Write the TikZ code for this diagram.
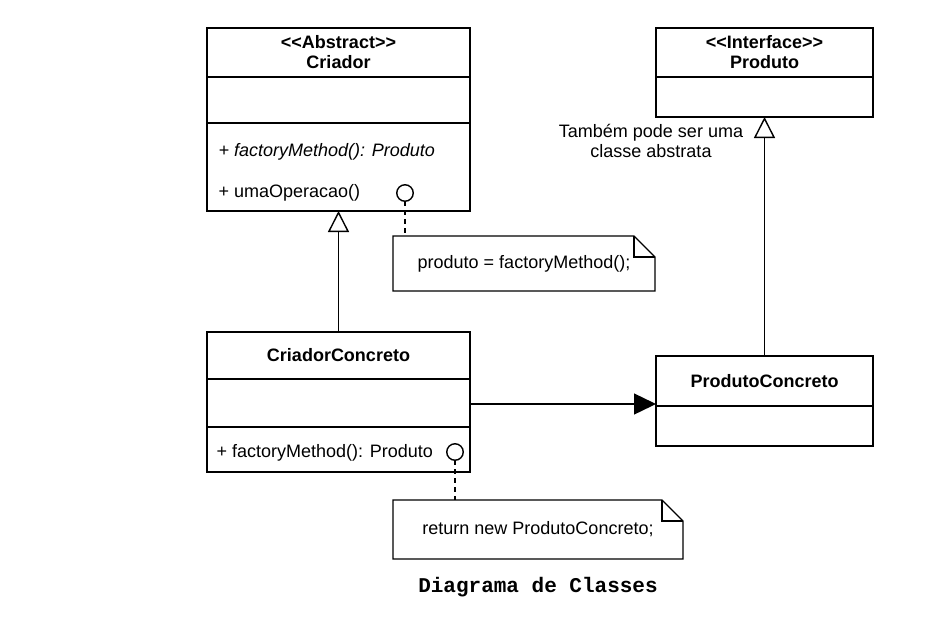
\documentclass[tikz,border=0pt]{standalone}
\usepackage{fontspec}
\setmainfont{Liberation Sans}
\setmonofont{Liberation Mono}
\usetikzlibrary{positioning,arrows.meta}

\begin{document}
\begin{tikzpicture}[x=1pt, y=-1pt, line width=1.4pt,
    every node/.style={font=\fontsize{18}{20}\selectfont},
    part/.style={draw, rectangle, inner sep=0pt, outer sep=0pt, align=center},
    op/.style={anchor=west, inner sep=0pt},
    pin/.style={draw, circle, fill=white, minimum size=16.5pt, inner sep=0pt, outer sep=0pt},
    nota/.style={rectangle, inner sep=0pt, outer sep=0pt},
    herda/.style={-{Triangle[open, length=21pt, width=21pt, fill=white]}},
    usa/.style={-{Triangle[length=22pt, width=21pt]}},
    notelink/.style={dash pattern=on 5pt off 4pt}]
        \useasboundingbox (0,0) rectangle (934,627);

        % Criador (abstract class)
        \node[part, minimum width=263pt, minimum height=49pt] (criador) at (338.5,52.5)
            {\textbf{<\kern0pt<Abstract>\kern0pt>}\\\textbf{Criador}};
        \node[part, minimum width=263pt, minimum height=46pt, below=0pt of criador] (criadorAttr) {};
        \node[part, minimum width=263pt, minimum height=88pt, below=0pt of criadorAttr] (criadorOps) {};
        \node[op] (opFactory) at (218,152) {\textit{+ factoryMethod(): Produto}};
        \node[op] (opUma) at (218,193) {+ umaOperacao()};
        \node[pin] (pinUma) at (405,193) {};

        % CriadorConcreto
        \node[part, minimum width=263pt, minimum height=47pt] (cc) at (338.5,355.5) {\textbf{CriadorConcreto}};
        \node[part, minimum width=263pt, minimum height=48pt, below=0pt of cc] (ccAttr) {};
        \node[part, minimum width=263pt, minimum height=45pt, below=0pt of ccAttr] (ccOps) {};
        \node[op] (opFactoryCC) at (216,453) {+ factoryMethod(): Produto};
        \node[pin] (pinFactory) at (455,452) {};

        % Produto (interface)
        \node[part, minimum width=217pt, minimum height=49pt] (produto) at (764.5,52.5)
            {\textbf{<\kern0pt<Interface>\kern0pt>}\\\textbf{Produto}};
        \node[part, minimum width=217pt, minimum height=40pt, below=0pt of produto] (produtoAttr) {};
        \node[align=center, inner sep=0pt] (obs) at (651,141) {Também pode ser uma\\classe abstrata};

        % ProdutoConcreto
        \node[part, minimum width=217pt, minimum height=50pt] (pc) at (764.5,381) {\textbf{ProdutoConcreto}};
        \node[part, minimum width=217pt, minimum height=40pt, below=0pt of pc] (pcAttr) {};

        % Notes
        \node[nota, minimum width=262pt, minimum height=55pt] (nota1) at (524,263.5) {produto = factoryMethod();};
        \node[nota, minimum width=290pt, minimum height=59pt] (nota2) at (538,529.5) {return new ProdutoConcreto;};
        \foreach \n in {nota1, nota2} {
            \draw (\n.north west) -- ([xshift=-21pt]\n.north east) -- ([yshift=-21pt]\n.north east)
                -- (\n.south east) -- (\n.south west) -- cycle;
            \draw ([xshift=-21pt]\n.north east) |- ([yshift=-21pt]\n.north east);
        }

        % Connections
        \draw[herda] (cc.north) -- (criadorOps.south);
        \draw[herda] (pc.north) -- (produtoAttr.south);
        \draw[usa] ([yshift=-1pt]ccAttr.east) -- ([yshift=-1pt]ccAttr.east -| pc.west);
        \draw[notelink] (pinUma.south) -- (pinUma.south |- nota1.north);
        \draw[notelink] (pinFactory.south) -- (pinFactory.south |- nota2.north);

        % Caption
        \node (legenda) at (538,587) {\fontsize{21}{24}\selectfont\ttfamily\bfseries Diagrama de Classes};
    \end{tikzpicture}
\end{document}
